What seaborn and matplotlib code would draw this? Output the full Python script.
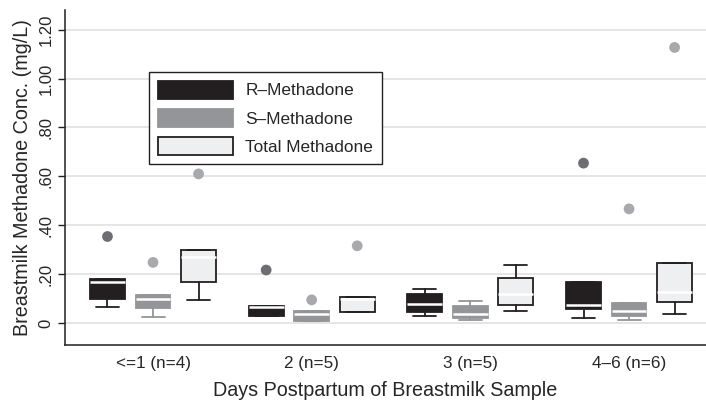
import pandas as pd
import seaborn as sns
import matplotlib.pyplot as plt
from matplotlib.patches import Patch

# --- dados ---
grupos = ['<=1 (n=4)', '2 (n=5)', '3 (n=5)', '4–6 (n=6)']
series = ['R–Methadone', 'S–Methadone', 'Total Methadone']

# estatísticas das caixas (uma por grupo)
r_whislo = [0.065, 0.028, 0.030, 0.020]
r_q1 = [0.100, 0.028, 0.044, 0.058]
r_med = [0.170, 0.064, 0.077, 0.075]
r_q3 = [0.179, 0.070, 0.118, 0.166]
r_whishi = [0.179, 0.070, 0.139, 0.166]

s_whislo = [0.026, 0.009, 0.011, 0.011]
s_q1 = [0.062, 0.009, 0.021, 0.028]
s_med = [0.098, 0.037, 0.037, 0.050]
s_q3 = [0.114, 0.048, 0.069, 0.081]
s_whishi = [0.114, 0.048, 0.092, 0.081]

t_whislo = [0.094, 0.045, 0.049, 0.037]
t_q1 = [0.170, 0.045, 0.073, 0.088]
t_med = [0.270, 0.100, 0.118, 0.129]
t_q3 = [0.297, 0.106, 0.183, 0.247]
t_whishi = [0.297, 0.106, 0.237, 0.247]

# valores atípicos
out_grupo = [0, 0, 0, 1, 1, 1, 3, 3, 3]
out_serie = [0, 1, 2, 0, 1, 2, 0, 1, 2]
out_valor = [0.354, 0.248, 0.610, 0.217, 0.095, 0.316, 0.654, 0.467, 1.127]

# --- estilo ---
cor_fill = ['#231f20', '#939598', '#eeeff0']
cor_borda = ['#231f20', '#939598', '#231f20']
cor_out = ['#6d6e71', '#a7a9ac', '#a7a9ac']
desloc = [-0.287, 0.0, 0.287]
largura = 0.22

sns.set_style('white')
plt.rcParams['font.family'] = ['Liberation Sans', 'DejaVu Sans']

fig = plt.figure(figsize=(7.06, 4.01), dpi=100)
ax = fig.add_axes([0.092, 0.140, 0.908, 0.835])

ax.set_axisbelow(True)
for v in [0, 0.2, 0.4, 0.6, 0.8, 1.0, 1.2]:
    ax.axhline(v, color='#e3e3e3', lw=1.3, zorder=0)

stats_por_serie = [
    (r_whislo, r_q1, r_med, r_q3, r_whishi),
    (s_whislo, s_q1, s_med, s_q3, s_whishi),
    (t_whislo, t_q1, t_med, t_q3, t_whishi),
]

for k, (wl, q1, med, q3, wh) in enumerate(stats_por_serie):
    stats = []
    for i in range(len(grupos)):
        stats.append(dict(whislo=wl[i], q1=q1[i], med=med[i], q3=q3[i],
                          whishi=wh[i], fliers=[]))
    pos = [i + desloc[k] for i in range(len(grupos))]
    ax.bxp(stats, positions=pos, widths=largura, capwidths=0.145,
           patch_artist=True, showfliers=False, manage_ticks=False,
           boxprops=dict(facecolor=cor_fill[k], edgecolor=cor_borda[k], linewidth=1.3),
           whiskerprops=dict(color=cor_borda[k], linewidth=1.3),
           capprops=dict(color=cor_borda[k], linewidth=1.3),
           medianprops=dict(color='white', linewidth=1.8))

df_out = pd.DataFrame({
    'x': [g + desloc[s] for g, s in zip(out_grupo, out_serie)],
    'valor': out_valor,
    'serie': [series[s] for s in out_serie],
})
sns.scatterplot(data=df_out, x='x', y='valor', hue='serie',
                palette=dict(zip(series, cor_out)), s=60, edgecolor='none',
                legend=False, ax=ax, zorder=3)

ax.set_xlim(-0.555, 3.485)
ax.set_ylim(-0.089, 1.28)
ax.set_xticks(range(len(grupos)))
ax.set_xticklabels(grupos, fontsize=12.3)
ax.tick_params(axis='x', length=0, pad=8)
ax.set_yticks([0, 0.2, 0.4, 0.6, 0.8, 1.0, 1.2])
ax.set_yticklabels(['0', '.20', '.40', '.60', '.80', '1.00', '1.20'],
                   rotation=90, va='center', fontsize=12)
ax.tick_params(axis='y', length=5, width=1, color='#231f20', left=True, pad=3)

for lado in ['top', 'right']:
    ax.spines[lado].set_visible(False)
for lado in ['left', 'bottom']:
    ax.spines[lado].set_color('#231f20')
    ax.spines[lado].set_linewidth(1.1)

ax.set_xlabel('Days Postpartum of Breastmilk Sample', fontsize=14.2, labelpad=7)
ax.set_ylabel('Breastmilk Methadone Conc. (mg/L)', fontsize=14.2, labelpad=5)

handles = [Patch(facecolor=cor_fill[k], edgecolor=cor_borda[k], linewidth=1.3)
           for k in range(3)]
ax.legend(handles, series, loc='upper left', bbox_to_anchor=(0.131, 0.815),
          borderaxespad=0, fontsize=12.4, handlelength=4.4, handleheight=1.25,
          handletextpad=0.7, labelspacing=0.58, borderpad=0.5, fancybox=False,
          framealpha=1, edgecolor='#231f20')

plt.savefig('out.png', dpi=100)
